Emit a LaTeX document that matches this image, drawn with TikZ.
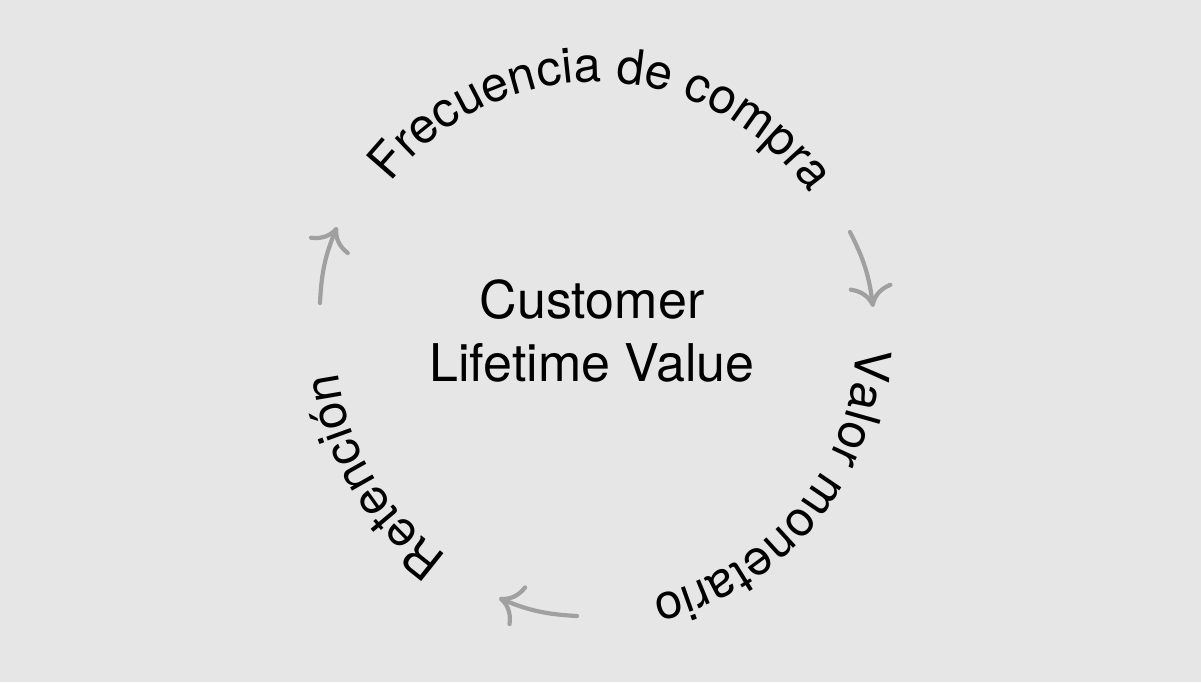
\documentclass[tikz,border=0pt]{standalone}
\usepackage{fontspec}
\setmainfont{TeX Gyre Heros}
\usetikzlibrary{decorations.text,arrows.meta}
\definecolor{bgcol}{HTML}{E6E6E6}
\definecolor{arrcol}{HTML}{A0A0A0}

\begin{document}
\begin{tikzpicture}[x=0.5pt,y=0.5pt]
\tikzset{CycleText/.style = {postaction={decorate}, decoration={text along path, text align=center, text format delimiters={|}{|}, text={|\fontsize{24.5}{30}\selectfont|#1}}},
  CycleArrow/.style = {draw=arrcol, line width=2.1pt, line cap=round, bend left=10, -{Computer Modern Rightarrow[length=11pt,width=22pt,line width=2.1pt]}}}
\fill[bgcol] (0,0) rectangle (1201,682);
\useasboundingbox (0,0) rectangle (1201,682);
\coordinate (Ctr) at (596,340);
\node[font=\fontsize{26}{31.5}\selectfont, align=center] (CLV) at (592,351) {Customer\\Lifetime Value};
% text round the cycle, clockwise
\path[CycleText={Frecuencia de compra}] ([shift={(160:260)}]Ctr) arc[start angle=160, end angle=17, radius=260];
\path[CycleText={Valor monetario}] ([shift={(14:260)}]Ctr) arc[start angle=14, end angle=-93, radius=260];
\path[CycleText={Retención}] ([shift={(265:260)}]Ctr) arc[start angle=265, end angle=157, radius=260];
% arrows between the steps
\coordinate (T1) at (320,379); \coordinate (H1) at (337,455);
\coordinate (T2) at (850,450); \coordinate (H2) at (873,375);
\coordinate (T3) at (577,66);  \coordinate (H3) at (499,84);
\draw[CycleArrow] (T1) to (H1);
\draw[CycleArrow] (T2) to (H2);
\draw[CycleArrow] (T3) to (H3);
\end{tikzpicture}
\end{document}
